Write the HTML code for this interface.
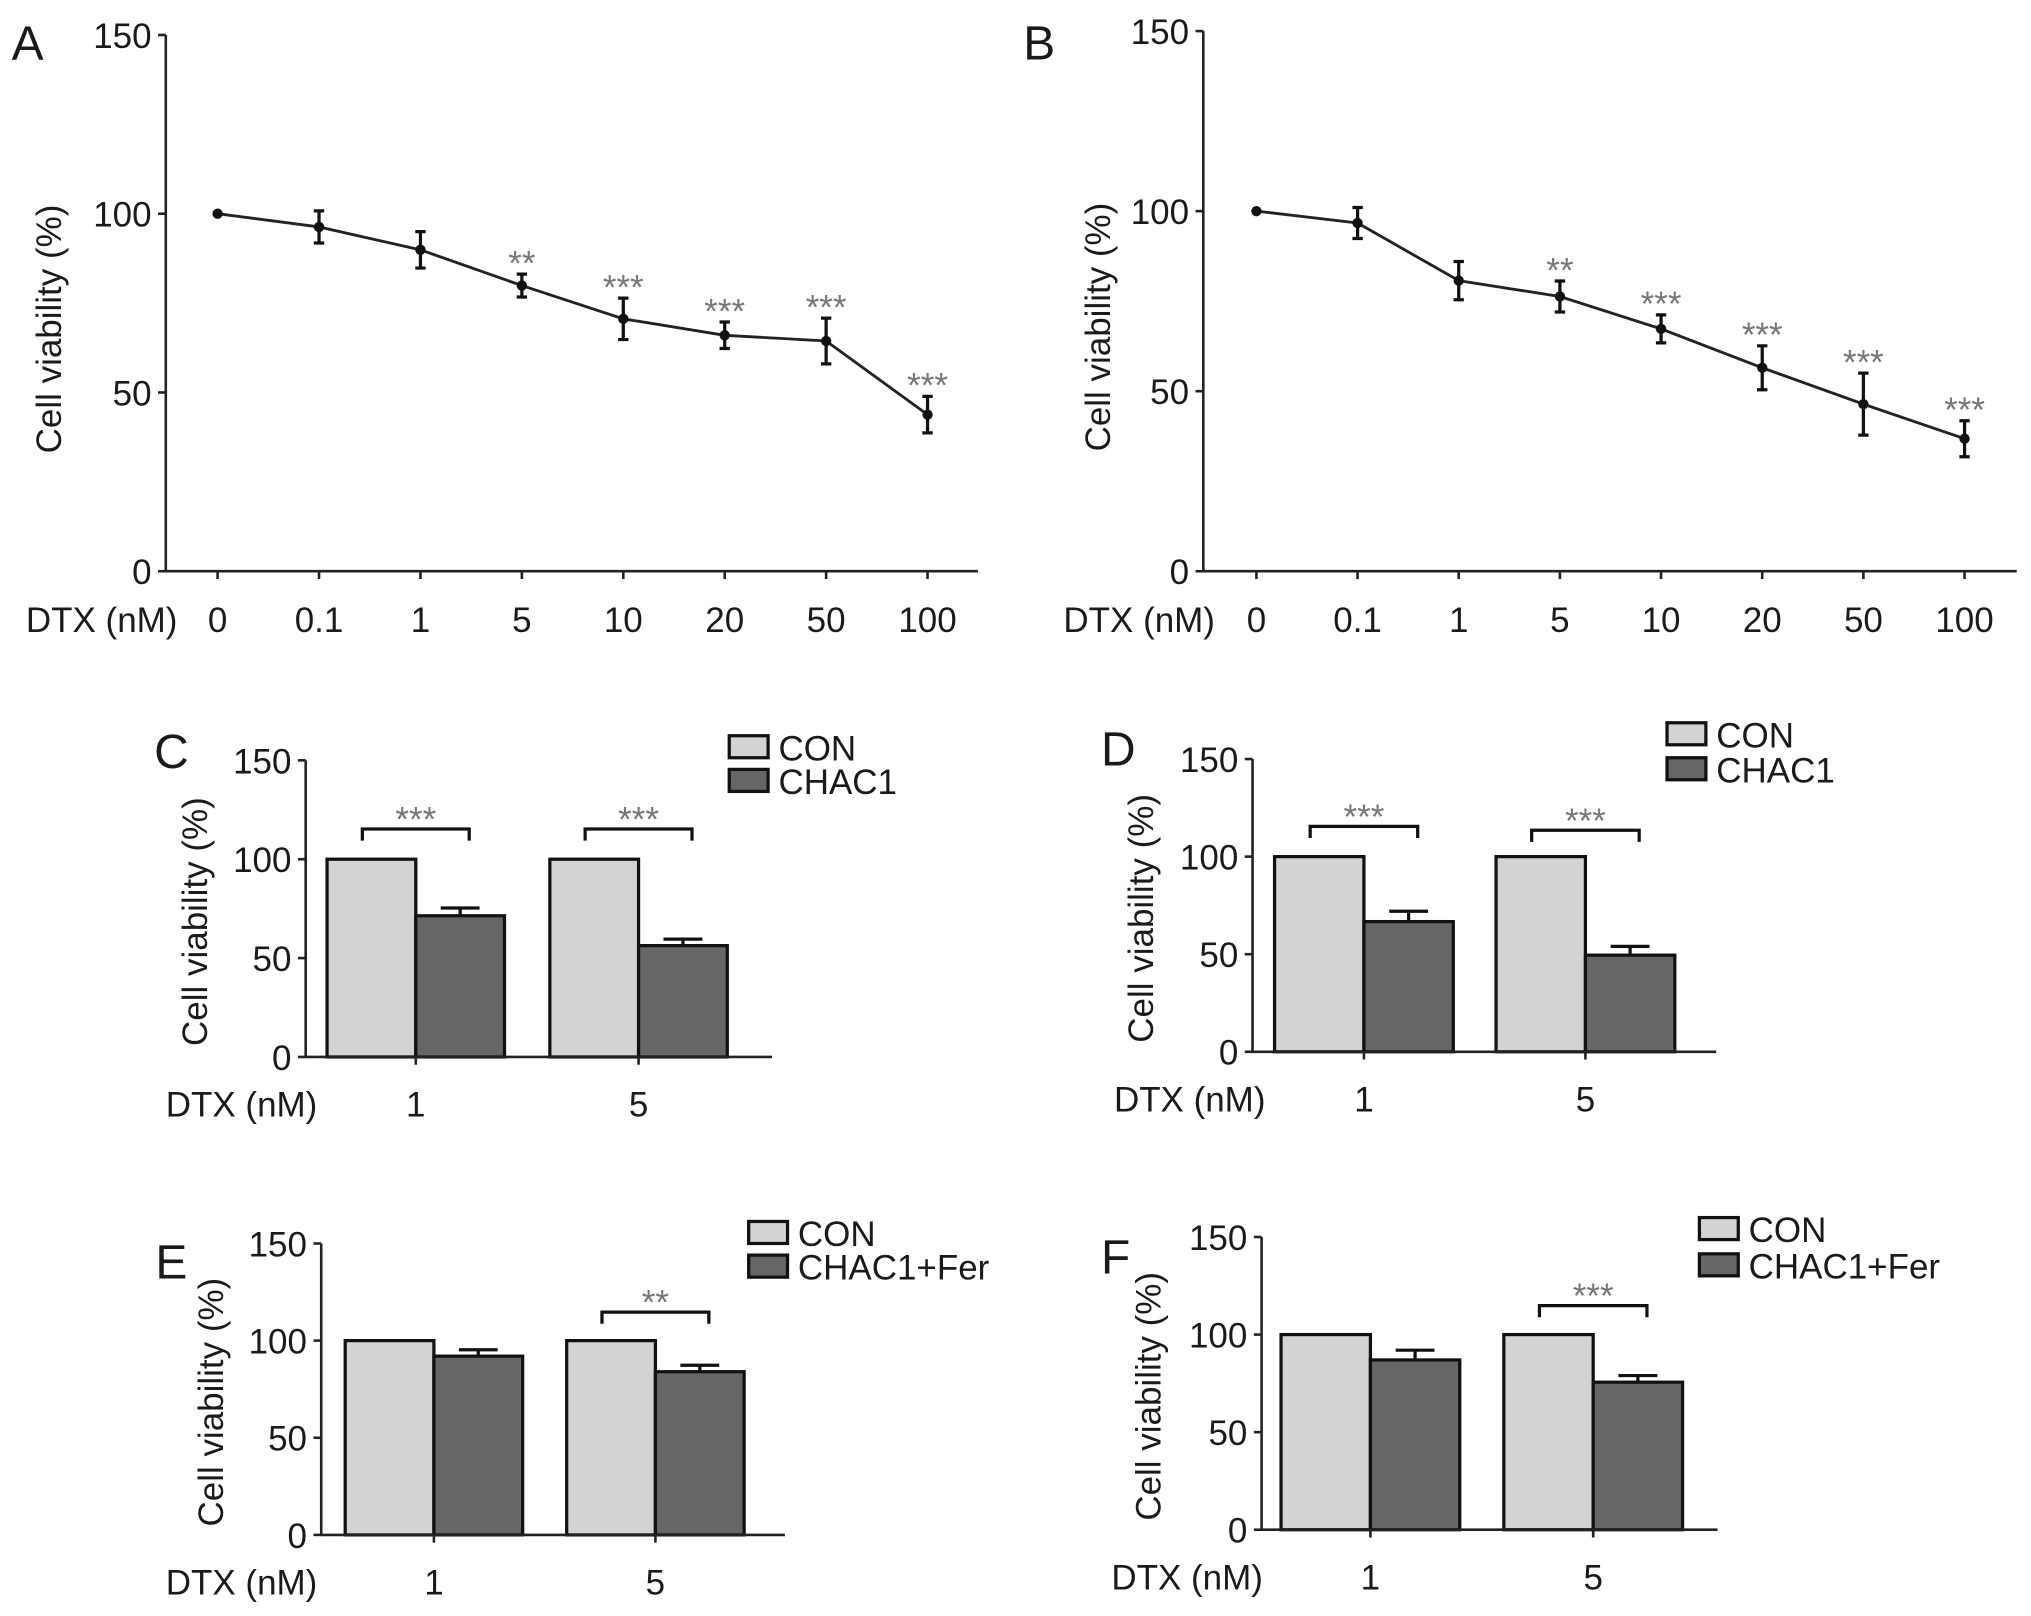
<!DOCTYPE html>
<html><head><meta charset="utf-8"><style>
html,body{margin:0;padding:0;background:#fff}
svg{display:block}
text{font-family:"Liberation Sans",sans-serif;fill:#1a1a1a}
</style></head><body>
<svg id="fig" width="2031" height="1616" viewBox="0 0 1568 1247.6" xmlns="http://www.w3.org/2000/svg"></svg>
<script>
// ---- Line panels A / B ----
const doseLabels = ["0","0.1","1","5","10","20","50","100"];
const viabA = [100,96.3,89.9,79.9,70.6,66,64.4,43.8];
const errA = [0,4.5,5.1,3.2,5.8,3.7,6.4,5.1];
const sigA = ["","","","**","***","***","***","***"];
const viabB = [100,96.7,80.7,76.3,67.3,56.5,46.4,36.8];
const errB = [0,4.3,5.3,4.3,3.9,6.1,8.6,5];
const sigB = ["","","","**","***","***","***","***"];
const yTicks = [0,50,100,150];
// ---- Bar panels C-F ----
const barDoses = ["1","5"];
const conC = [100,100];
const trtC = [71.4,56.3];
const trtErrC = [3.9,3.3];
const sigC = ["***","***"];
const conD = [100,100];
const trtD = [66.7,49.5];
const trtErrD = [5.3,4.5];
const sigD = ["***","***"];
const conE = [100,100];
const trtE = [92,84];
const trtErrE = [3.3,3.3];
const sigE = ["","**"];
const conF = [100,100];
const trtF = [87,75.6];
const trtErrF = [5,3.4];
const sigF = ["","***"];

const NS="http://www.w3.org/2000/svg";
const svg=document.getElementById('fig');
function el(tag,attrs,parent,txt){const e=document.createElementNS(NS,tag);for(const k in attrs)e.setAttribute(k,attrs[k]);if(txt!==undefined)e.textContent=txt;(parent||svg).appendChild(e);return e;}

function linePanel(cfg,vals,errs,sigs){
  const g=el('g',{});
  
  
  const y=v=>cfg.y0-(cfg.y0-cfg.y150)*v/150;
  const x=i=>cfg.xs+i*cfg.step;
  const t=el('text',{x:cfg.lx,y:cfg.ly,'font-size':37},g,cfg.letter);
  
  const ax=el('path',{d:`M${cfg.ax},${cfg.y150}V${cfg.y0}H${cfg.xend}`,stroke:'#222','stroke-width':2,fill:'none'},g);
  
  yTicks.forEach(v=>{
    el('line',{x1:cfg.ax-6,x2:cfg.ax,y1:y(v),y2:y(v),stroke:'#222','stroke-width':2},g);
    const tl=el('text',{x:cfg.ax-11,y:y(v)+10,'font-size':27,'text-anchor':'end'},g,String(v));
    
  });
  const yl=el('text',{x:0,y:0,'font-size':27,'text-anchor':'middle',transform:`translate(${cfg.ylx},${(cfg.y150+cfg.y0)/2+20}) rotate(-90)`},g,'Cell viability (%)');
  
  const xt=el('text',{x:cfg.dtxX,y:cfg.y0+47,'font-size':27},g,'DTX (nM)');
  
  doseLabels.forEach((d,i)=>{
    el('line',{x1:x(i),x2:x(i),y1:cfg.y0,y2:cfg.y0+6,stroke:'#222','stroke-width':2},g);
    const tl=el('text',{x:x(i),y:cfg.y0+47,'font-size':27,'text-anchor':'middle'},g,d);
    
  });
  const pts=vals.map((v,i)=>x(i)+','+y(v)).join(' ');
  const ln=el('polyline',{points:pts,fill:'none',stroke:'#222','stroke-width':2.2},g);
  
  vals.forEach((v,i)=>{
    if(errs[i]>0){
      const eb=el('path',{d:`M${x(i)},${y(v+errs[i])}V${y(v-errs[i])}M${x(i)-4},${y(v+errs[i])}h8M${x(i)-4},${y(v-errs[i])}h8`,stroke:'#111','stroke-width':2.5,fill:'none'},g);
      
    }
    const p=el('circle',{cx:x(i),cy:y(v),r:4,fill:'#111'},g);
    
    if(sigs[i]){
      const s=el('text',{x:x(i),y:y(v+errs[i])+1,'font-size':27,'text-anchor':'middle',style:'fill:#777'},g,sigs[i]);
      
    }
  });
}

function barPanel(cfg,con,trt,errs,sigs){
  const g=el('g',{});
  
  
  const y=v=>cfg.y0-(cfg.y0-cfg.y150)*v/150;
  const t=el('text',{x:cfg.lx,y:cfg.ly,'font-size':37},g,cfg.letter);
  
  yTicks.forEach(v=>{
    el('line',{x1:cfg.ax-6,x2:cfg.ax,y1:y(v),y2:y(v),stroke:'#222','stroke-width':2},g);
    const tl=el('text',{x:cfg.ax-11,y:y(v)+10,'font-size':27,'text-anchor':'end'},g,String(v));
    
  });
  const yl=el('text',{x:0,y:0,'font-size':27,'text-anchor':'middle',transform:`translate(${cfg.ylx},${(cfg.y150+cfg.y0)/2+10}) rotate(-90)`},g,'Cell viability (%)');
  
  const xt=el('text',{x:cfg.dtxX,y:cfg.y0+46,'font-size':27},g,'DTX (nM)');
  
  barDoses.forEach((d,i)=>{
    const c=cfg.centers[i], w=cfg.bw;
    const b1=el('rect',{x:c-w,y:y(con[i]),width:w,height:y(0)-y(con[i]),fill:'#d3d3d3',stroke:'#111','stroke-width':2.5},g);
    
    const eb=el('path',{d:`M${c+w/2},${y(trt[i])}V${y(trt[i]+errs[i])}M${c+w/2-15},${y(trt[i]+errs[i])}h30`,stroke:'#111','stroke-width':2.5,fill:'none'},g);
    
    const b2=el('rect',{x:c,y:y(trt[i]),width:w,height:y(0)-y(trt[i]),fill:'#666',stroke:'#111','stroke-width':2.5},g);
    
    el('line',{x1:c,x2:c,y1:cfg.y0,y2:cfg.y0+6,stroke:'#222','stroke-width':2},g);
    const tl=el('text',{x:c,y:cfg.y0+46,'font-size':27,'text-anchor':'middle'},g,d);
    
    if(sigs[i]){
      const by=cfg.brY[i];
      const br=el('path',{d:`M${c-w/2-7},${by+9}V${by}H${c+w/2+7}V${by+9}`,stroke:'#111','stroke-width':2.5,fill:'none'},g);
      
      const s=el('text',{x:c,y:by+2,'font-size':27,'text-anchor':'middle',style:'fill:#777'},g,sigs[i]);
      
    }
  });
  const ax=el('path',{d:`M${cfg.ax},${cfg.y150}V${cfg.y0}H${cfg.xend}`,stroke:'#222','stroke-width':2,fill:'none'},g);
  
  const lg=el('g',{},g);
  
  [['CON','#d3d3d3'],[cfg.trtName,'#666']].forEach((e,k)=>{
    const yy=cfg.legY+k*cfg.legGap;
    const r=el('rect',{x:cfg.legX,y:yy,width:30,height:17,fill:e[1],stroke:'#111','stroke-width':2.5},lg);
    
    const tx=el('text',{x:cfg.legX+38,y:yy+19,'font-size':27},lg,e[0]);
    
  });
}

linePanel({letter:'A',lx:9,ly:46,ax:128,y0:441,y150:27,xend:755,xs:168,step:78.3,ylx:47,dtxX:20},viabA,errA,sigA);
linePanel({letter:'B',lx:790,ly:46,ax:929,y0:441,y150:24,xend:1557,xs:970,step:78.1,ylx:857,dtxX:821},viabB,errB,sigB);
barPanel({letter:'C',lx:119,ly:593,ax:236,y0:816,y150:587,xend:596,centers:[321,493],bw:68.5,ylx:160,dtxX:128,brY:[640,640],legX:563,legY:568,legGap:26,trtName:'CHAC1'},conC,trtC,trtErrC,sigC);
barPanel({letter:'D',lx:850,ly:591,ax:967,y0:812,y150:586,xend:1325,centers:[1053,1224],bw:69,ylx:890,dtxX:860,brY:[638,641],legX:1287,legY:558,legGap:27,trtName:'CHAC1'},conD,trtD,trtErrD,sigD);
barPanel({letter:'E',lx:120,ly:987,ax:248,y0:1185,y150:960,xend:606,centers:[335,506],bw:68.5,ylx:172,dtxX:128,brY:[1013,1013],legX:578,legY:943,legGap:26,trtName:'CHAC1+Fer'},conE,trtE,trtErrE,sigE);
barPanel({letter:'F',lx:850,ly:983,ax:974,y0:1181,y150:955,xend:1326,centers:[1058,1230],bw:69,ylx:896,dtxX:858,brY:[1008,1008],legX:1312,legY:940,legGap:28,trtName:'CHAC1+Fer'},conF,trtF,trtErrF,sigF);
</script>
</body></html>
